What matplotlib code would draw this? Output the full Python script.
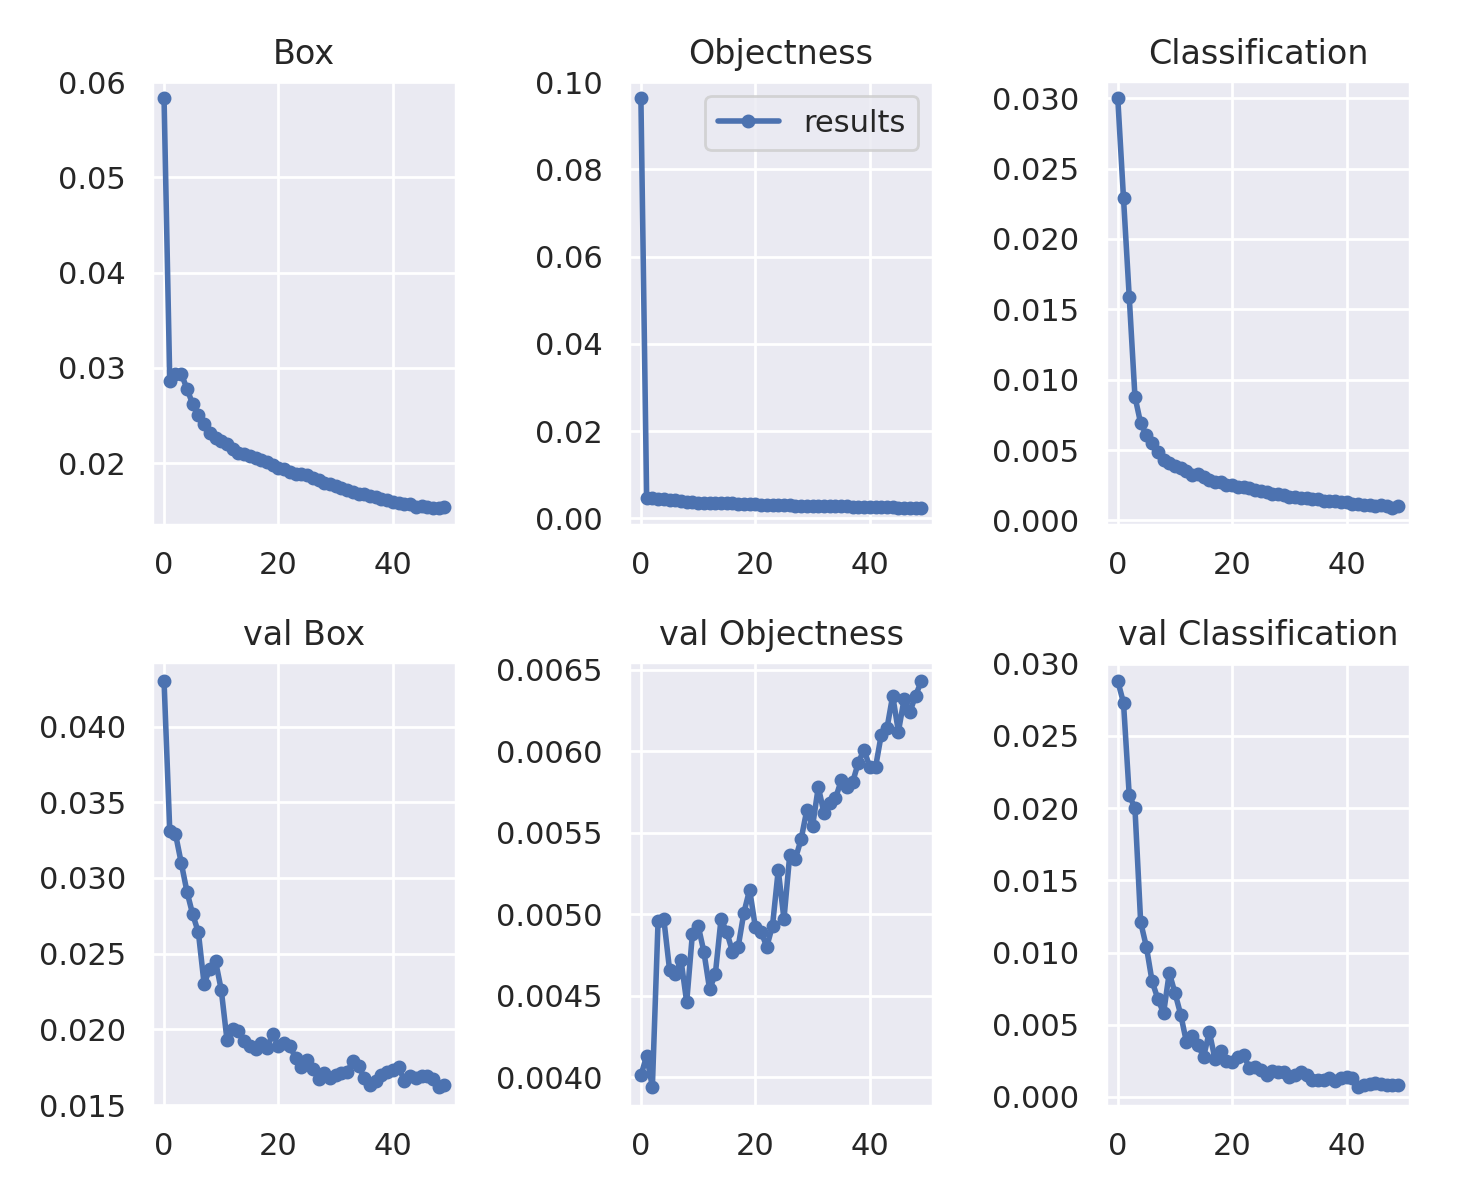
import matplotlib
matplotlib.use("Agg")
import matplotlib.pyplot as plt
import seaborn as sns

sns.set_theme()
plt.rcParams['font.family'] = ['DejaVu Sans']

epochs = list(range(50))

# значения
box = [0.0583, 0.0286, 0.0293, 0.0294, 0.0278, 0.0262, 0.0250, 0.0241, 0.0232, 0.0226,
       0.0223, 0.0220, 0.0215, 0.0211, 0.0210, 0.0207, 0.0205, 0.0203, 0.0201, 0.0198,
       0.0195, 0.0194, 0.0191, 0.0189, 0.0188, 0.0187, 0.0184, 0.0182, 0.0179, 0.0178,
       0.0176, 0.0174, 0.0172, 0.0170, 0.0168, 0.0168, 0.0165, 0.0164, 0.0162, 0.0161,
       0.0159, 0.0158, 0.0157, 0.0157, 0.0154, 0.0155, 0.0154, 0.0153, 0.0153, 0.0154]

objectness = [0.0963, 0.0047, 0.0046, 0.0045, 0.0044, 0.0043, 0.0041, 0.0039, 0.0038, 0.0037,
              0.0036, 0.0036, 0.0035, 0.0035, 0.0034, 0.0034, 0.0034, 0.0033, 0.0033, 0.0032,
              0.0032, 0.0031, 0.0031, 0.0030, 0.0030, 0.0030, 0.0030, 0.0029, 0.0029, 0.0029,
              0.0028, 0.0028, 0.0028, 0.0028, 0.0027, 0.0027, 0.0027, 0.0026, 0.0026, 0.0026,
              0.0025, 0.0025, 0.0025, 0.0025, 0.0025, 0.0024, 0.0024, 0.0024, 0.0024, 0.0024]

classification = [0.0300, 0.0229, 0.0159, 0.0088, 0.0069, 0.0061, 0.0055, 0.0049, 0.0043, 0.0041,
                  0.0039, 0.0037, 0.0035, 0.0032, 0.0033, 0.0031, 0.0029, 0.0027, 0.0027, 0.0025,
                  0.0025, 0.0024, 0.0024, 0.0023, 0.0022, 0.0021, 0.0020, 0.0019, 0.0019, 0.0018,
                  0.0017, 0.0017, 0.0016, 0.0016, 0.0015, 0.0015, 0.0014, 0.0014, 0.0014, 0.0013,
                  0.0013, 0.0012, 0.0012, 0.0011, 0.0011, 0.0010, 0.0011, 0.0010, 0.0009, 0.0010]

val_box = [0.0430, 0.0331, 0.0329, 0.0310, 0.0291, 0.0276, 0.0264, 0.0230, 0.0240, 0.0245,
           0.0226, 0.0193, 0.0200, 0.0199, 0.0192, 0.0189, 0.0187, 0.0191, 0.0188, 0.0197,
           0.0189, 0.0191, 0.0189, 0.0181, 0.0175, 0.0180, 0.0174, 0.0167, 0.0171, 0.0168,
           0.0170, 0.0171, 0.0172, 0.0179, 0.0176, 0.0168, 0.0163, 0.0166, 0.0170, 0.0172,
           0.0173, 0.0175, 0.0166, 0.0169, 0.0168, 0.0169, 0.0169, 0.0167, 0.0162, 0.0163]

val_objectness = [0.00401, 0.00413, 0.00394, 0.00496, 0.00497, 0.00466, 0.00463, 0.00472, 0.00446, 0.00488,
                  0.00493, 0.00477, 0.00454, 0.00463, 0.00497, 0.00489, 0.00477, 0.00480, 0.00501, 0.00515,
                  0.00492, 0.00489, 0.00480, 0.00493, 0.00527, 0.00497, 0.00536, 0.00534, 0.00546, 0.00564,
                  0.00554, 0.00578, 0.00562, 0.00568, 0.00571, 0.00582, 0.00578, 0.00581, 0.00593, 0.00601,
                  0.00590, 0.00590, 0.00610, 0.00614, 0.00634, 0.00612, 0.00632, 0.00624, 0.00634, 0.00643]

val_classification = [0.0288, 0.0273, 0.0209, 0.0200, 0.0121, 0.0104, 0.0080, 0.0068, 0.0058, 0.0086,
                      0.0072, 0.0057, 0.0038, 0.0042, 0.0036, 0.0028, 0.0045, 0.0026, 0.0032, 0.0025,
                      0.0024, 0.0028, 0.0029, 0.0020, 0.0021, 0.0019, 0.0015, 0.0018, 0.0017, 0.0017,
                      0.0014, 0.0015, 0.0017, 0.0015, 0.0012, 0.0012, 0.0012, 0.0013, 0.0011, 0.0013,
                      0.0014, 0.0013, 0.0007, 0.0008, 0.0009, 0.0010, 0.0009, 0.0008, 0.0008, 0.0008]

titles = ['Box', 'Objectness', 'Classification', 'val Box', 'val Objectness', 'val Classification']
series = [box, objectness, classification, val_box, val_objectness, val_classification]

fig, axes = plt.subplots(2, 3, figsize=(7.335, 5.995), dpi=200)
fig.subplots_adjust(left=0.1038, right=0.9611, top=0.9324, bottom=0.0776,
                    wspace=0.569, hspace=0.3086)

for i, (ax, title, y) in enumerate(zip(axes.ravel(), titles, series)):
    ax.plot(epochs, y, marker='.', markersize=8, linewidth=2, label='results')
    # верхний ряд чуть плотнее по вертикали
    ax.margins(x=0.042, y=0.042 if i < 3 else 0.047)
    ax.set_title(title)
    ax.set_xticks([0, 20, 40])

axes[0, 1].legend(loc='upper right')

fig.savefig('out.png', dpi=200)
